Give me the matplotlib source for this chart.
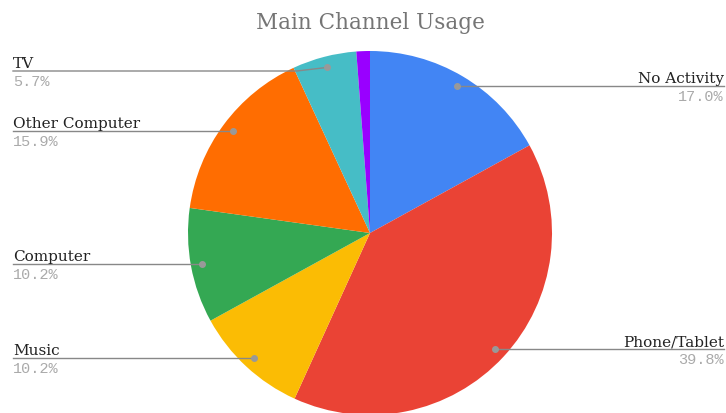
import numpy as np
import matplotlib.pyplot as plt

W, H = 726, 414

# data, clockwise from 12 o'clock
labels = ["No Activity", "Phone/Tablet", "Music", "Computer", "Other Computer", "TV", ""]
values = [17.0, 39.8, 10.2, 10.2, 15.9, 5.7, 1.2]
colors = ["#4285f4", "#ea4335", "#fbbc04", "#34a853", "#ff6d01", "#46bdc6", "#9900ff"]

# leader line height (pixels from top); None = level with the dot
label_y = [None, None, None, None, None, 72]

cx, cy, r = 370, 234, 182

fig = plt.figure(figsize=(W / 100, H / 100), dpi=100)
ax = fig.add_axes([0, 0, 1, 1])
ax.pie(values, colors=colors, startangle=90, counterclock=False,
       center=(cx, H - cy), radius=r, wedgeprops=dict(linewidth=0))
ax.set_xlim(0, W)
ax.set_ylim(0, H)
ax.set_aspect("equal")
ax.axis("off")

total = sum(values)
start = 0.0
for name, v, ly in zip(labels, values, label_y + [None]):
    mid = (start + v / 2) / total * 2 * np.pi
    start += v
    if not name:
        continue
    # dot sits a bit inside the edge of the slice
    dx = cx + 0.94 * r * np.sin(mid)
    dy = cy - 0.94 * r * np.cos(mid)
    if ly is None:
        ly = dy
    right = dx > cx
    tx = 724 if right else 13
    kx = dx + 30 if right else dx - 30
    ax.plot([tx, kx, dx], [H - ly, H - ly, H - dy], color="#888888", lw=1, zorder=3)
    ax.plot(dx, H - dy, "o", color="#999999", ms=4, zorder=4)
    ha = "right" if right else "left"
    ax.text(tx, H - ly + 4, name, ha=ha, va="baseline", fontsize=11,
            family="DejaVu Serif", color="#222222")
    ax.text(tx, H - ly - 3, f"{v:.1f}%", ha=ha, va="top", fontsize=11,
            family="Liberation Mono", color="#aaaaaa")

fig.text(cx / W, 1 - 23 / H, "Main Channel Usage", ha="center", va="center",
         fontsize=15.5, family="DejaVu Serif", color="#757575")

fig.savefig("out.png", dpi=100)
